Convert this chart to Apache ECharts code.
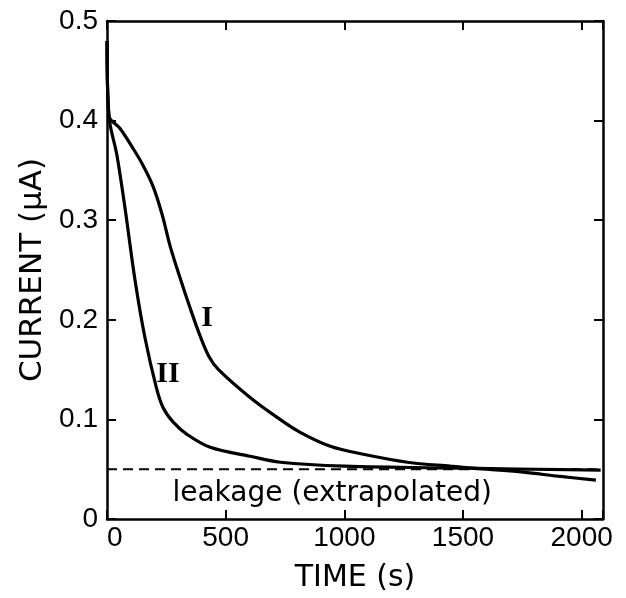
<!DOCTYPE html>
<html><head><meta charset="utf-8">
<script src="https://cdn.jsdelivr.net/npm/echarts@6/dist/echarts.min.js"></script>
<style>html,body{margin:0;padding:0;background:#fff}#c{width:626px;height:598px}</style>
</head><body><div id="c"></div>
<script>
// ---- data ----
const xTicks = [0, 500, 1000, 1500, 2000];
const yTicks = [0, 0.1, 0.2, 0.3, 0.4, 0.5];
const curveI = [[0,0.48],[8,0.405],[55,0.392],[110,0.372],[152,0.355],[194,0.334],[232,0.306],[266,0.274],[308,0.242],[350,0.212],[392,0.184],[430,0.163],[470,0.150],[603,0.122],[717,0.102],[814,0.087],[941,0.073],[1080,0.065],[1266,0.057],[1447,0.053],[1600,0.050],[1755,0.047],[1900,0.043],[2060,0.039]];
const curveII = [[0,0.48],[8,0.405],[42,0.365],[76,0.312],[118,0.240],[160,0.182],[208,0.132],[236,0.112],[280,0.097],[337,0.085],[435,0.072],[603,0.063],[730,0.057],[1000,0.053],[1500,0.051],[2080,0.049]];
const leakage = [[0,0.05],[2090,0.05]];
const labelI = 'I';
const labelII = 'II';
const leakageText = 'leakage (extrapolated)';
const xTitle = 'TIME (s)';
const yTitle = 'CURRENT (\u03bcA)';

const chart = echarts.init(document.getElementById('c'));
const axisLine = {show:true, onZero:false, lineStyle:{color:'#000', width:2.5}};
const axisTick = {show:true, inside:true, length:9, lineStyle:{color:'#000', width:2}};
const tickFont = {color:'#000', fontSize:28, fontFamily:'Liberation Sans'};
chart.setOption({
  backgroundColor:'#fff',
  animation:false,
  grid:{left:107, right:23, top:21, bottom:76},
  xAxis:[
    {type:'value', min:0, max:2090, interval:500, position:'bottom',
     axisLine, axisTick, splitLine:{show:false},
     axisLabel:Object.assign({margin:5, alignMinLabel:'left', formatter:v=>xTicks.includes(v)?String(v):''}, tickFont),
     name:xTitle, nameLocation:'middle', nameGap:44,
     nameTextStyle:{color:'#000', fontSize:30, fontFamily:'DejaVu Sans'}},
    {type:'value', min:0, max:2090, interval:500, position:'top',
     axisLine, axisTick, splitLine:{show:false}, axisLabel:{show:false}}
  ],
  yAxis:[
    {type:'value', min:0, max:0.5, interval:0.1, position:'left',
     axisLine, axisTick, splitLine:{show:false},
     axisLabel:Object.assign({margin:9, formatter:v=>{const t=yTicks.find(k=>Math.abs(k-v)<1e-9);return t===undefined?'':(t===0?'0':t.toFixed(1));}}, tickFont),
     name:yTitle, nameLocation:'middle', nameGap:59,
     nameTextStyle:{color:'#000', fontSize:31, fontFamily:'DejaVu Sans'}},
    {type:'value', min:0, max:0.5, interval:0.1, position:'right',
     axisLine, axisTick, splitLine:{show:false}, axisLabel:{show:false}}
  ],
  series:[
    {type:'line', data:leakage, showSymbol:false, silent:true,
     lineStyle:{color:'#000', width:2, type:[10,6]},
     markPoint:{symbol:'circle', symbolSize:0, silent:true,
       label:{show:true, position:'inside', color:'#000', fontSize:28, fontFamily:'DejaVu Sans'},
       data:[{coord:[949,0.025], value:leakageText, label:{formatter:leakageText}}]}},
    {type:'line', data:curveI, showSymbol:false, smooth:0.35, silent:true,
     lineStyle:{color:'#000', width:3.2},
     markPoint:{symbol:'circle', symbolSize:0, silent:true,
       label:{show:true, position:'inside', color:'#000', fontSize:30, fontWeight:'bold', fontFamily:'Liberation Serif'},
       data:[{coord:[422,0.202], value:labelI, label:{formatter:labelI}}]}},
    {type:'line', data:curveII, showSymbol:false, smooth:0.35, silent:true,
     lineStyle:{color:'#000', width:3.2},
     markPoint:{symbol:'circle', symbolSize:0, silent:true,
       label:{show:true, position:'inside', color:'#000', fontSize:30, fontWeight:'bold', fontFamily:'Liberation Serif'},
       data:[{coord:[257,0.145], value:labelII, label:{formatter:labelII}}]}}
  ]
});
</script></body></html>
